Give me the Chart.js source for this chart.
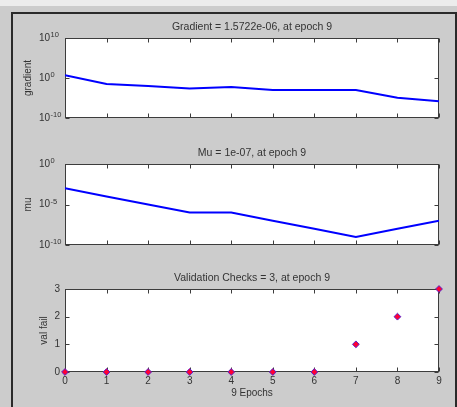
<!DOCTYPE html>
<html><head><meta charset="utf-8">
<script src="https://cdn.jsdelivr.net/npm/chart.js@4"></script>
<style>
html,body{margin:0;padding:0;}
body{width:457px;height:407px;position:relative;overflow:hidden;background:#cccccc;}
#topstrip{position:absolute;left:0;top:0;width:457px;height:6px;background:#ececec;}
#frame{position:absolute;left:11px;top:12px;width:442px;height:420px;border-left:2px solid #2a2a2a;border-top:2px solid #2a2a2a;border-right:2px solid #2a2a2a;}
canvas{position:absolute;left:0;}
</style></head>
<body>
<div id="topstrip"></div>
<div id="frame"></div>
<canvas id="c1" width="457" height="130" style="top:0px"></canvas>
<canvas id="c2" width="457" height="130" style="top:130px"></canvas>
<canvas id="c3" width="457" height="147" style="top:260px"></canvas>
<script>
// ---- data ----
const epochs = [0, 1, 2, 3, 4, 5, 6, 7, 8, 9];
const gradient = [5, 0.03, 0.0095, 0.0025, 0.006, 0.001, 0.001, 0.001, 1.1e-5, 1.5722e-6];
const mu = [1e-3, 1e-4, 1e-5, 1e-6, 1e-6, 1e-7, 1e-8, 1e-9, 1e-8, 1e-7];
const valFail = [0, 0, 0, 0, 0, 0, 0, 1, 2, 3];

const gradTicks = [1e-10, 1, 1e10];
const gradTickExp = ['-10', '0', '10'];
const muTicks = [1e-10, 1e-5, 1];
const muTickExp = ['-10', '-5', '0'];
const valTicks = [0, 1, 2, 3];
const valTickLabels = ['0', '1', '2', '3'];
const epochTickLabels = ['0', '1', '2', '3', '4', '5', '6', '7', '8', '9'];

const titles = ['Gradient = 1.5722e-06, at epoch 9', 'Mu = 1e-07, at epoch 9', 'Validation Checks = 3, at epoch 9'];
const yLabels = ['gradient', 'mu', 'val fail'];
const xLabel = '9 Epochs';

const FONT = "'Liberation Sans', Arial, Helvetica, sans-serif";
const TXT = '#333333';

const boxPlugin = {
  id: 'box',
  beforeDraw(chart) {
    const a = chart.chartArea, ctx = chart.ctx;
    ctx.save();
    ctx.fillStyle = '#ffffff';
    ctx.fillRect(a.left, a.top, a.right - a.left, a.bottom - a.top);
    ctx.restore();
  },
  beforeDatasetsDraw(chart) {
    const a = chart.chartArea, ctx = chart.ctx;
    const L = Math.round(a.left) + 0.5, R = Math.round(a.right) - 0.5;
    const T = Math.round(a.top) + 0.5, B = Math.round(a.bottom) - 0.5;
    ctx.save();
    ctx.strokeStyle = '#3c3c3c';
    ctx.lineWidth = 1;
    ctx.strokeRect(L, T, R - L, B - T);
    ctx.beginPath();
    const xs = chart.scales.x, ys = chart.scales.y;
    xs.ticks.forEach(t => {
      const px = Math.round(xs.getPixelForValue(t.value)) + 0.5;
      ctx.moveTo(px, B); ctx.lineTo(px, B - 4);
      ctx.moveTo(px, T); ctx.lineTo(px, T + 4);
    });
    ys.ticks.forEach(t => {
      const py = Math.round(ys.getPixelForValue(t.value)) + 0.5;
      ctx.moveTo(L, py); ctx.lineTo(L + 4, py);
      ctx.moveTo(R, py); ctx.lineTo(R - 4, py);
    });
    ctx.stroke();
    ctx.restore();
  }
};

// power-of-ten tick labels: "10" with a raised exponent, placed at the scale's tick pixels
function expLabelPlugin(exps) {
  return {
    id: 'expLabels',
    afterDraw(chart) {
      const ys = chart.scales.y, ctx = chart.ctx;
      const xBase = ys.right - 15;
      ctx.save();
      ctx.fillStyle = TXT;
      ys.ticks.forEach((t, i) => {
        const py = ys.getPixelForValue(t.value);
        ctx.font = '10px ' + FONT;
        ctx.textAlign = 'right';
        ctx.textBaseline = 'middle';
        ctx.fillText('10', xBase, py);
        ctx.font = '7.5px ' + FONT;
        ctx.textAlign = 'left';
        ctx.textBaseline = 'alphabetic';
        ctx.fillText(exps[i], xBase + 0.5, py - 1);
      });
      ctx.restore();
    }
  };
}

function xScale(height, showLabels, titleText) {
  return {
    type: 'linear', min: 0, max: 9,
    afterBuildTicks: s => { s.ticks = epochs.map(v => ({ value: v })); },
    afterFit: s => { s.height = height; },
    grid: { display: false, drawTicks: false },
    border: { display: false },
    ticks: {
      display: showLabels, padding: 3, color: TXT,
      font: { family: FONT, size: 10 },
      callback: (v, i) => epochTickLabels[i]
    },
    title: titleText ? {
      display: true, text: titleText, color: TXT,
      font: { family: FONT, size: 10 }, padding: { top: 0, bottom: 8 }
    } : { display: false }
  };
}

function yScale(type, min, max, tickVals, tickLabels, showTicks, label, labelPad, tickPad) {
  return {
    type: type, min: min, max: max,
    afterBuildTicks: s => { s.ticks = tickVals.map(v => ({ value: v })); },
    afterFit: s => { s.width = 65; },
    grid: { display: false, drawTicks: false },
    border: { display: false },
    ticks: {
      display: showTicks, padding: tickPad, color: TXT,
      font: { family: FONT, size: 10 },
      callback: (v, i) => tickLabels[i]
    },
    title: {
      display: true, text: label, color: TXT,
      font: { family: FONT, size: 10 }, padding: { top: labelPad, bottom: 0 }
    }
  };
}

function titleOpts(text, top, bottom) {
  return {
    display: true, text: text, color: TXT, fullSize: false,
    font: { family: FONT, size: 10.5, weight: 'normal' },
    padding: { top: top, bottom: bottom }
  };
}

function pts(ys) { return epochs.map((e, i) => ({ x: e, y: ys[i] })); }

const common = {
  responsive: false, animation: false,
  layout: { padding: { left: 0, right: 18, top: 0, bottom: 0 } },
  events: []
};

new Chart(document.getElementById('c1'), {
  type: 'line',
  data: { datasets: [{ data: pts(gradient), borderColor: '#0000ff', borderWidth: 2, pointRadius: 0, tension: 0 }] },
  options: Object.assign({}, common, {
    plugins: { legend: { display: false }, tooltip: { enabled: false }, title: titleOpts(titles[0], 21, 4.4) },
    scales: {
      x: xScale(12, false, null),
      y: yScale('logarithmic', 1e-10, 1e10, gradTicks, gradTickExp.map(e => '10^' + e), false, yLabels[0], 22, 12)
    }
  }),
  plugins: [boxPlugin, expLabelPlugin(gradTickExp)]
});

new Chart(document.getElementById('c2'), {
  type: 'line',
  data: { datasets: [{ data: pts(mu), borderColor: '#0000ff', borderWidth: 2, pointRadius: 0, tension: 0 }] },
  options: Object.assign({}, common, {
    plugins: { legend: { display: false }, tooltip: { enabled: false }, title: titleOpts(titles[1], 17.2, 4.2) },
    scales: {
      x: xScale(15, false, null),
      y: yScale('logarithmic', 1e-10, 1, muTicks, muTickExp.map(e => '10^' + e), false, yLabels[1], 22.5, 12)
    }
  }),
  plugins: [boxPlugin, expLabelPlugin(muTickExp)]
});

new Chart(document.getElementById('c3'), {
  type: 'line',
  data: { datasets: [{
    data: pts(valFail), showLine: false, clip: false,
    pointStyle: 'rectRot', pointRadius: 3.4,
    pointBackgroundColor: '#ff0033', pointBorderColor: '#5a22cc', pointBorderWidth: 1
  }] },
  options: Object.assign({}, common, {
    plugins: { legend: { display: false }, tooltip: { enabled: false }, title: titleOpts(titles[2], 11.7, 4.7) },
    scales: {
      x: xScale(35, true, xLabel),
      y: yScale('linear', 0, 3, valTicks, valTickLabels, true, yLabels[2], 38.5, 5)
    }
  }),
  plugins: [boxPlugin]
});
</script>
</body></html>
